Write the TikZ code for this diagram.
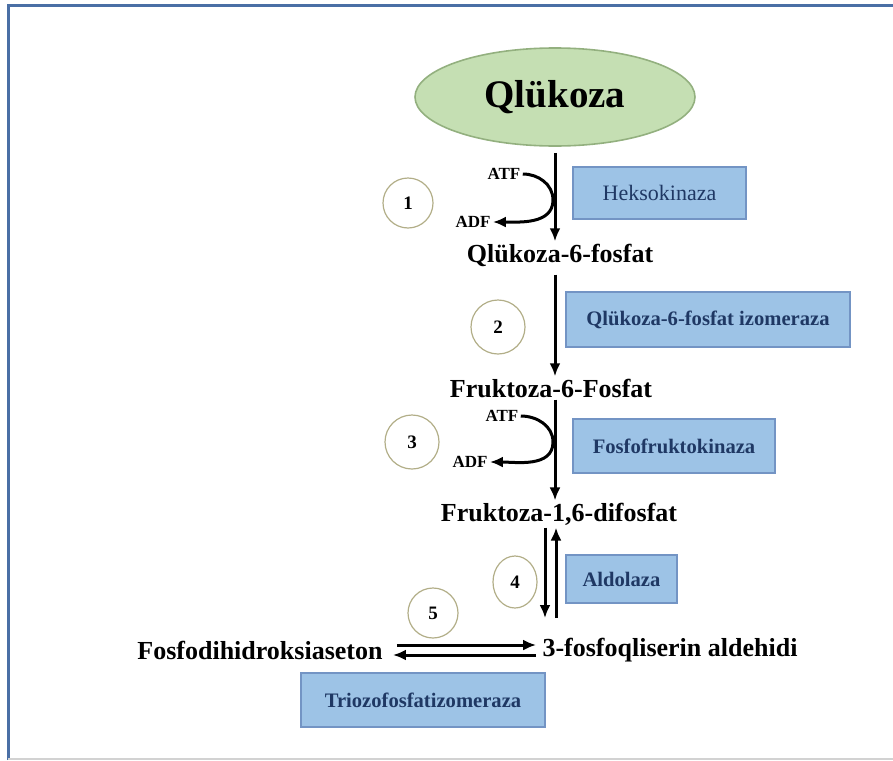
\documentclass[tikz,border=0pt]{standalone}
\usepackage{fontspec}
\setmainfont{Liberation Serif}
\usetikzlibrary{arrows.meta,shapes.geometric}
\definecolor{glcgreen}{HTML}{C5DFB3}
\definecolor{glcedge}{HTML}{93B07F}
\definecolor{enzblue}{HTML}{9DC3E6}
\definecolor{enzedge}{HTML}{7394C4}
\definecolor{enztext}{HTML}{1F3864}
\definecolor{ringedge}{HTML}{B2AE88}
\definecolor{framecol}{HTML}{4A6FA5}

\begin{document}
\begin{tikzpicture}[x=0.5pt,y=-0.5pt,
    metab/.style={inner sep=1pt, font=\fontsize{13}{15}\selectfont\bfseries},
    cofac/.style={inner sep=1pt, font=\fontsize{8.5}{10}\selectfont\bfseries},
    enz/.style={rectangle, draw=enzedge, fill=enzblue, line width=0.7pt, text=enztext,
        font=\fontsize{10.3}{12}\selectfont\bfseries},
    ring/.style={circle, draw=ringedge, line width=0.6pt, inner sep=0pt,
        font=\fontsize{9.5}{10}\selectfont\bfseries},
    flow/.style={line width=1.5pt, -{Latex[length=6.5pt,width=5.5pt]}}]
            \useasboundingbox (0,0) rectangle (893,760);
            % frame
            \draw[framecol, line width=1.5pt] (8,760) -- (8,5) -- (893,5);
            \draw[gray!35, line width=0.8pt] (8,759) -- (893,759);

            \node[ellipse, draw=glcedge, fill=glcgreen, line width=0.8pt, minimum width=140pt,
                minimum height=49pt, font=\fontsize{19.5}{24}\selectfont\bfseries] (glc) at (555,97) {Qlükoza};

            % metabolites
            \node[metab] (g6p) at (560,255) {Qlükoza-6-fosfat};
            \node[metab] (f6p) at (551,388) {Fruktoza-6-Fosfat};
            \node[metab] (f16) at (559,514) {Fruktoza-1,6-difosfat};
            \node[metab] (dhap) at (260,650) {Fosfodihidroksiaseton};
            \node[metab] (gap) at (670,650) {3-fosfoqliserin aldehidi};

            % enzymes
            \node[enz, font=\fontsize{11}{13}\selectfont, minimum width=86.5pt, minimum height=26pt] (hk) at (659.5,193) {Heksokinaza};
            \node[enz, minimum width=142pt, minimum height=27.5pt] (gpi) at (708,319.5) {Qlükoza-6-fosfat izomeraza};
            \node[enz, minimum width=101pt, minimum height=27pt] (pfk) at (674,446) {Fosfofruktokinaza};
            \node[enz, minimum width=55.5pt, minimum height=24pt] (ald) at (621.5,579) {Aldolaza};
            \node[enz, minimum width=122pt, minimum height=27pt] (tim) at (423,700) {Triozofosfatizomeraza};

            % step numbers
            \node[ring, minimum size=25pt] (r1) at (408,203) {1};
            \node[ring, minimum size=27pt] (r2) at (498,327) {2};
            \node[ring, minimum size=27pt] (r3) at (412,442) {3};
            \node[ring, ellipse, minimum width=22pt, minimum height=26pt] (r4) at (515,582) {4};
            \node[ring, minimum size=25pt] (r5) at (433,613) {5};

            % cofactors
            \node[cofac] (atf1) at (504,174) {ATF};
            \node[cofac] (adf1) at (473,222) {ADF};
            \node[cofac] (atf3) at (502,416) {ATF};
            \node[cofac] (adf3) at (470,462) {ADF};
            \coordinate (t1) at (553,200);
            \coordinate (t3) at (553,442);
            \coordinate (dn4) at (545,618);
            \coordinate (up4) at (556,618);

            % main path
            \draw[flow, shorten <=3pt] (glc.south) -- (glc.south |- g6p.north);
            \draw[flow, shorten <=3pt] (glc.south |- g6p.south) -- (glc.south |- f6p.north);
            \draw[flow] (glc.south |- f6p.south) -- (glc.south |- f16.north);
            \draw[flow] (dn4 |- f16.south) -- (dn4);
            \draw[flow] (up4) -- (up4 |- f16.south);
            \draw[flow] (atf1.east) to[out=0, in=90] (t1) to[out=-90, in=0] (adf1.east);
            \draw[flow] (atf3.east) to[out=0, in=90] (t3) to[out=-90, in=0] (adf3.east);
            \draw[flow, shorten <=6pt, shorten >=2pt] ([yshift=2.5pt]dhap.east) -- ([yshift=2.5pt]gap.west);
            \draw[flow, shorten <=2pt, shorten >=4pt] ([yshift=-2.5pt]gap.west) -- ([yshift=-2.5pt]dhap.east);
        \end{tikzpicture}
\end{document}
